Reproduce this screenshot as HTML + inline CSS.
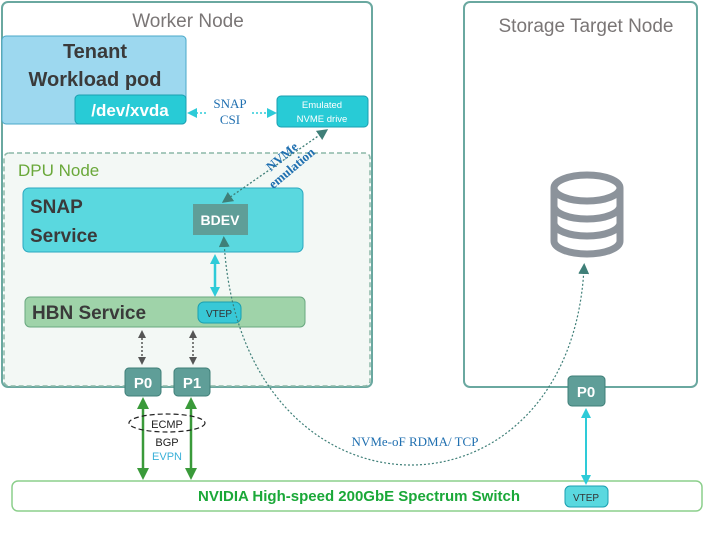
<!DOCTYPE html>
<html><head><meta charset="utf-8"><style>
html,body{margin:0;padding:0;background:#fff;}
svg{display:block;font-family:"Liberation Sans","DejaVu Sans",sans-serif;}
</style></head><body>
<svg width="704" height="557" viewBox="0 0 704 557" xmlns="http://www.w3.org/2000/svg">
<defs>
<marker id="ag" markerWidth="8" markerHeight="8" refX="4" refY="4" orient="auto-start-reverse" markerUnits="userSpaceOnUse"><path d="M0,0 L8,4 L0,8 z" fill="#555"/></marker>
<marker id="at" markerWidth="11" markerHeight="11" refX="6" refY="5.5" orient="auto-start-reverse" markerUnits="userSpaceOnUse"><path d="M0,0 L11,5.5 L0,11 z" fill="#3f7f78"/></marker>
<marker id="ac" markerWidth="10" markerHeight="10" refX="5" refY="5" orient="auto-start-reverse" markerUnits="userSpaceOnUse"><path d="M0,0 L10,5 L0,10 z" fill="#2ecbd8"/></marker>
<marker id="agr" markerWidth="12" markerHeight="12" refX="6" refY="6" orient="auto-start-reverse" markerUnits="userSpaceOnUse"><path d="M0,0 L12,6 L0,12 z" fill="#3a9a3a"/></marker>
</defs>
<rect x="2" y="2" width="370" height="385" rx="6" fill="#fff" stroke="#6aa8a0" stroke-width="2"/>
<text x="188" y="27" font-size="19" fill="#7a7676" text-anchor="middle">Worker Node</text>
<rect x="4" y="153" width="366" height="233" rx="5" fill="#f3f8f5" stroke="#8cb8a8" stroke-width="1.5" stroke-dasharray="5,3"/>
<text x="18" y="176" font-size="17" fill="#6aa83a">DPU Node</text>
<rect x="2" y="36" width="184" height="88" rx="4" fill="#9dd8ef" stroke="#4aa8c8" stroke-width="1"/>
<text x="95" y="58" font-size="20" font-weight="bold" fill="#3a3a3a" text-anchor="middle">Tenant</text>
<text x="95" y="86" font-size="20" font-weight="bold" fill="#3a3a3a" text-anchor="middle">Workload pod</text>
<rect x="75" y="95" width="111" height="29" rx="4" fill="#28cbd6" stroke="#1a9fb0"/>
<text x="130" y="116" font-size="17" font-weight="bold" fill="#fff" text-anchor="middle">/dev/xvda</text>
<rect x="277" y="96" width="91" height="31" rx="4" fill="#28cbd6" stroke="#1a9fb0"/>
<text x="322" y="108" font-size="9.5" fill="#fff" text-anchor="middle">Emulated</text>
<text x="322" y="122" font-size="9.5" fill="#fff" text-anchor="middle">NVME drive</text>
<line x1="192" y1="113" x2="272" y2="113" stroke="#2ecbd8" stroke-width="1.5" stroke-dasharray="2,2" marker-start="url(#ac)" marker-end="url(#ac)"/>
<rect x="208" y="97" width="44" height="31" fill="#fff"/>
<text x="230" y="108" font-size="13" fill="#1f6fb0" font-family="Liberation Serif,serif" text-anchor="middle">SNAP</text>
<text x="230" y="124" font-size="13" fill="#1f6fb0" font-family="Liberation Serif,serif" text-anchor="middle">CSI</text>
<rect x="23" y="188" width="280" height="64" rx="6" fill="#5ad8df" stroke="#2aa8c0"/>
<text x="30" y="213" font-size="19" font-weight="bold" fill="#3a3a3a">SNAP</text>
<text x="30" y="242" font-size="19" font-weight="bold" fill="#3a3a3a">Service</text>
<rect x="193" y="204" width="55" height="31" fill="#5f9e98"/>
<text x="220" y="225" font-size="14" font-weight="bold" fill="#fff" text-anchor="middle">BDEV</text>
<line x1="324" y1="132" x2="226" y2="200" stroke="#3f7f78" stroke-width="1.3" stroke-dasharray="2,2" marker-start="url(#at)" marker-end="url(#at)"/>
<g transform="translate(290,166) rotate(-40)" font-family="Liberation Serif,serif" font-size="13" font-weight="bold" fill="#1f6fb0">
<text x="0" y="-8" text-anchor="middle">NVMe</text>
<text x="0" y="7" text-anchor="middle">emulation</text>
</g>
<line x1="215" y1="259" x2="215" y2="292" stroke="#2ecbd8" stroke-width="2.5" marker-start="url(#ac)" marker-end="url(#ac)"/>
<rect x="25" y="297" width="280" height="30" rx="5" fill="#9fd3a9" stroke="#6aa880"/>
<text x="32" y="319" font-size="19" font-weight="bold" fill="#3a3a3a">HBN Service</text>
<rect x="198" y="302" width="43" height="21" rx="6" fill="#38c8d6" stroke="#1a9fb0"/>
<text x="219" y="317" font-size="10" fill="#333" text-anchor="middle">VTEP</text>
<line x1="142" y1="334" x2="142" y2="361" stroke="#555" stroke-width="1.5" stroke-dasharray="2,2" marker-start="url(#ag)" marker-end="url(#ag)"/>
<line x1="193" y1="334" x2="193" y2="361" stroke="#555" stroke-width="1.5" stroke-dasharray="2,2" marker-start="url(#ag)" marker-end="url(#ag)"/>
<rect x="464" y="2" width="233" height="385" rx="6" fill="#fff" stroke="#6aa8a0" stroke-width="2"/>
<text x="586" y="32" font-size="19" fill="#7a7676" text-anchor="middle">Storage Target Node</text>
<g fill="none" stroke="#8c939b" stroke-width="7">
<ellipse cx="587" cy="188" rx="33" ry="13"/>
<path d="M554,188 V241 A33,13 0 0 0 620,241 V188"/>
<path d="M554,206 A33,13 0 0 0 620,206"/>
<path d="M554,223 A33,13 0 0 0 620,223"/>
</g>
<path d="M224,241 C 240,535 570,535 584,268" fill="none" stroke="#3f7f78" stroke-width="1.2" stroke-dasharray="2,2" marker-start="url(#at)" marker-end="url(#at)"/>
<text x="415" y="446" font-size="13" fill="#1f6fb0" font-family="Liberation Serif,serif" text-anchor="middle">NVMe-oF RDMA/ TCP</text>
<rect x="125" y="368" width="36" height="28" rx="4" fill="#5f9e98" stroke="#3f7f78"/>
<text x="143" y="388" font-size="15" font-weight="bold" fill="#fff" text-anchor="middle">P0</text>
<rect x="174" y="368" width="36" height="28" rx="4" fill="#5f9e98" stroke="#3f7f78"/>
<text x="192" y="388" font-size="15" font-weight="bold" fill="#fff" text-anchor="middle">P1</text>
<rect x="568" y="376" width="37" height="30" rx="4" fill="#5f9e98" stroke="#3f7f78"/>
<text x="586" y="397" font-size="15" font-weight="bold" fill="#fff" text-anchor="middle">P0</text>
<line x1="143" y1="403" x2="143" y2="474" stroke="#3a9a3a" stroke-width="2.5" marker-start="url(#agr)" marker-end="url(#agr)"/>
<line x1="191" y1="403" x2="191" y2="474" stroke="#3a9a3a" stroke-width="2.5" marker-start="url(#agr)" marker-end="url(#agr)"/>
<ellipse cx="167" cy="423" rx="38" ry="9" fill="none" stroke="#222" stroke-width="1.2" stroke-dasharray="5,3"/>
<text x="167" y="428" font-size="11" fill="#222" text-anchor="middle">ECMP</text>
<text x="167" y="446" font-size="11" fill="#222" text-anchor="middle">BGP</text>
<text x="167" y="460" font-size="11" fill="#3ab0d8" text-anchor="middle">EVPN</text>
<rect x="12" y="481" width="690" height="30" rx="6" fill="#fff" stroke="#8ccf8c" stroke-width="1.5"/>
<text x="359" y="501" font-size="15" font-weight="bold" fill="#1aa838" text-anchor="middle">NVIDIA High-speed 200GbE Spectrum Switch</text>
<line x1="586" y1="413" x2="586" y2="480" stroke="#2ecbd8" stroke-width="2" marker-start="url(#ac)" marker-end="url(#ac)"/>
<rect x="565" y="486" width="43" height="21" rx="5" fill="#5ad8df" stroke="#1a9fb0"/>
<text x="586" y="501" font-size="10" fill="#333" text-anchor="middle">VTEP</text>
</svg>
</body></html>
